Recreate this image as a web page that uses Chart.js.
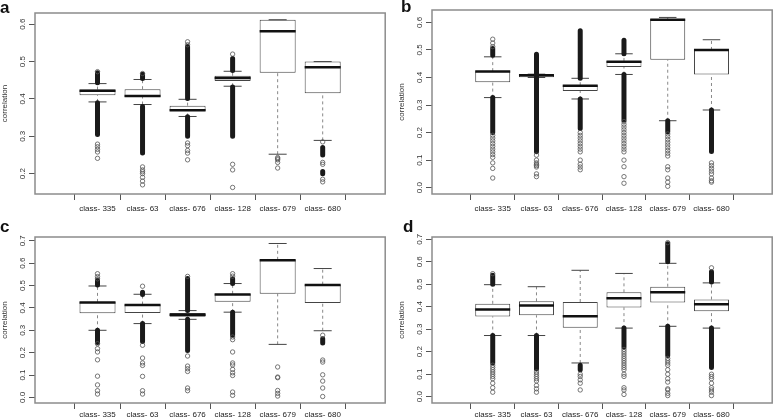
<!DOCTYPE html>
<html>
<head>
<meta charset="utf-8">
<script src="https://cdn.jsdelivr.net/npm/chart.js@4"></script>
<style>
  body { margin: 0; background: #fff; }
  #wrap { position: relative; width: 777px; height: 420px; overflow: hidden; }
  canvas { position: absolute; }
  .tag { position: absolute; font: bold 17px "Liberation Sans", Arial, sans-serif; line-height: 17px; color: #111; }
</style>
</head>
<body>
<div id="wrap">
  <canvas id="pa" width="390" height="220" style="left:0;top:0"></canvas>
  <canvas id="pb" width="387" height="220" style="left:390px;top:0"></canvas>
  <canvas id="pc" width="390" height="200" style="left:0;top:220px"></canvas>
  <canvas id="pd" width="387" height="200" style="left:390px;top:220px"></canvas>
  <div class="tag" style="left:0;top:-1px">a</div>
  <div class="tag" style="left:401px;top:-2px">b</div>
  <div class="tag" style="left:0;top:218px">c</div>
  <div class="tag" style="left:403px;top:218px">d</div>
</div>
<script>
// categories shared by all four panels
const classes = ['class- 335', 'class- 63', 'class- 676', 'class- 128', 'class- 679', 'class- 680'];

// panel a
const aLow  = [0.392, 0.385, 0.353, 0.434, 0.252, 0.289];
const aQ1   = [0.410, 0.405, 0.368, 0.448, 0.470, 0.415];
const aMed  = [0.422, 0.408, 0.370, 0.456, 0.581, 0.485];
const aQ3   = [0.425, 0.426, 0.382, 0.462, 0.612, 0.500];
const aHigh = [0.441, 0.452, 0.399, 0.474, 0.612, 0.500];
const aDense = [[[0.443, 0.470], [0.305, 0.390]], [[0.455, 0.466], [0.255, 0.380]], [[0.401, 0.540], [0.300, 0.352]],
                [[0.476, 0.508], [0.300, 0.432]], [], [[0.250, 0.270], [0.200, 0.206]]];
const aOut = [[0.473, 0.279, 0.272, 0.265, 0.258, 0.241],
              [0.468, 0.218, 0.210, 0.205, 0.200, 0.190, 0.180, 0.170],
              [0.553, 0.545, 0.282, 0.275, 0.262, 0.255, 0.237],
              [0.520, 0.225, 0.210, 0.163],
              [0.243, 0.240, 0.237, 0.230, 0.215],
              [0.285, 0.230, 0.225, 0.185, 0.178]];
const aTicks = [0.2, 0.3, 0.4, 0.5, 0.6];

// panel b
const bLow  = [0.327, 0.400, 0.322, 0.411, 0.243, 0.282];
const bQ1   = [0.383, 0.401, 0.351, 0.438, 0.464, 0.411];
const bMed  = [0.422, 0.408, 0.370, 0.457, 0.610, 0.500];
const bQ3   = [0.423, 0.410, 0.372, 0.460, 0.612, 0.500];
const bHigh = [0.475, 0.412, 0.397, 0.486, 0.618, 0.537];
const bDense = [[[0.481, 0.505], [0.200, 0.327]], [[0.130, 0.484]], [[0.397, 0.570], [0.215, 0.322]],
                [[0.486, 0.535], [0.246, 0.411]], [[0.203, 0.243]], [[0.131, 0.282]]];
const bOut = [[0.539, 0.525, 0.512, 0.19, 0.18, 0.17, 0.16, 0.15, 0.14, 0.13, 0.12, 0.11, 0.09, 0.07, 0.035],
              [0.118, 0.10, 0.09, 0.085, 0.08, 0.075, 0.05, 0.04],
              [0.2, 0.19, 0.18, 0.17, 0.16, 0.15, 0.14, 0.13, 0.1, 0.085, 0.075, 0.065],
              [0.24, 0.23, 0.22, 0.21, 0.2, 0.19, 0.18, 0.17, 0.16, 0.15, 0.14, 0.13, 0.1, 0.076, 0.04, 0.016],
              [0.195, 0.185, 0.175, 0.165, 0.155, 0.145, 0.135, 0.125, 0.115, 0.076, 0.065, 0.035, 0.02, 0.005],
              [0.09, 0.08, 0.07, 0.06, 0.05, 0.035, 0.025, 0.02]];
const bTicks = [0.0, 0.1, 0.2, 0.3, 0.4, 0.5, 0.6];

// panel c
const cLow  = [0.300, 0.330, 0.349, 0.381, 0.237, 0.298];
const cQ1   = [0.376, 0.377, 0.361, 0.428, 0.463, 0.422];
const cMed  = [0.424, 0.413, 0.369, 0.460, 0.613, 0.502];
const cQ3   = [0.427, 0.415, 0.377, 0.463, 0.615, 0.504];
const cHigh = [0.498, 0.461, 0.388, 0.509, 0.688, 0.576];
const cDense = [[[0.502, 0.525], [0.245, 0.300]], [[0.460, 0.470], [0.250, 0.330]], [[0.388, 0.531], [0.210, 0.349]],
                [[0.509, 0.530], [0.278, 0.381]], [], [[0.243, 0.262]]];
const cOut = [[0.553, 0.540, 0.530, 0.240, 0.218, 0.203, 0.168, 0.095, 0.056, 0.030, 0.015],
              [0.497, 0.233, 0.176, 0.154, 0.143, 0.094, 0.030, 0.015],
              [0.541, 0.185, 0.140, 0.128, 0.116, 0.042, 0.030],
              [0.553, 0.542, 0.270, 0.258, 0.203, 0.154, 0.145, 0.125, 0.110, 0.098, 0.024, 0.009],
              [0.136, 0.091, 0.088, 0.031, 0.018, 0.006],
              [0.278, 0.167, 0.158, 0.101, 0.073, 0.042, 0.004]];
const cTicks = [0.0, 0.1, 0.2, 0.3, 0.4, 0.5, 0.6, 0.7];

// panel d
const dLow  = [0.272, 0.272, 0.150, 0.305, 0.313, 0.305];
const dQ1   = [0.357, 0.362, 0.307, 0.397, 0.419, 0.380];
const dMed  = [0.388, 0.406, 0.358, 0.438, 0.464, 0.411];
const dQ3   = [0.413, 0.424, 0.421, 0.464, 0.489, 0.432];
const dHigh = [0.498, 0.489, 0.562, 0.548, 0.593, 0.506];
const dDense = [[[0.500, 0.540], [0.150, 0.272]], [[0.123, 0.272]], [[0.120, 0.140]],
                [[0.220, 0.305]], [[0.600, 0.680], [0.183, 0.313]], [[0.510, 0.556], [0.130, 0.305]]];
const dOut = [[0.547, 0.14, 0.13, 0.12, 0.11, 0.10, 0.09, 0.08, 0.06, 0.04, 0.02],
              [0.11, 0.10, 0.09, 0.08, 0.07, 0.05, 0.035, 0.02],
              [0.10, 0.09, 0.075, 0.06, 0.03],
              [0.21, 0.20, 0.19, 0.18, 0.17, 0.16, 0.15, 0.14, 0.13, 0.12, 0.10, 0.09, 0.04, 0.03, 0.01],
              [0.685, 0.17, 0.16, 0.15, 0.14, 0.12, 0.10, 0.08, 0.065, 0.035, 0.03, 0.015, 0.005],
              [0.573, 0.10, 0.09, 0.08, 0.06, 0.04, 0.03, 0.02, 0.005]];
const dTicks = [0.0, 0.1, 0.2, 0.3, 0.4, 0.5, 0.6, 0.7];

const FONT = '"Liberation Sans", Arial, sans-serif';

// rotated y tick labels, axis title and the grey frame, R style
const rStyle = {
    id: 'rStyle',
    afterDraw(chart) {
        const { ctx, chartArea: ca, scales: { y } } = chart;
        ctx.save();
        ctx.fillStyle = '#333';
        ctx.textAlign = 'center';
        ctx.textBaseline = 'middle';
        ctx.font = '8px ' + FONT;
        y.ticks.forEach(t => {
            ctx.save();
            ctx.translate(ca.left - 12.5, y.getPixelForValue(t.value));
            ctx.rotate(-Math.PI / 2);
            ctx.fillText(t.value.toFixed(1), 0, 0);
            ctx.restore();
        });
        ctx.translate(ca.left - 30, (ca.top + ca.bottom) / 2);
        ctx.rotate(-Math.PI / 2);
        ctx.fillText('correlation', 0, 0);
        ctx.restore();
        ctx.save();
        ctx.strokeStyle = '#8c8c8c';
        ctx.lineWidth = 1.5;
        ctx.strokeRect(ca.left, ca.top, ca.right - ca.left, ca.bottom - ca.top);
        ctx.restore();
    }
};

function halfWidth(units) {
    return c => {
        const s = c.chart.scales.x;
        return s.getPixelForValue(1 + units) - s.getPixelForValue(1);
    };
}

function makePanel(id, lo, q1, med, q3, hi, dense, out, ticks, yMin, yMax, lay) {
    const whisk = [], runs = [], pts = [];
    lo.forEach((v, i) => {
        const x = i + 1;
        whisk.push({ x, y: v }, { x, y: q1[i] }, { x, y: null }, { x, y: q3[i] }, { x, y: hi[i] }, { x, y: null });
        dense[i].forEach(r => runs.push({ x, y: r[0] }, { x, y: r[1] }, { x, y: null }));
        out[i].forEach(v2 => pts.push({ x, y: v2 }));
    });
    const caps = lo.map((v, i) => ({ x: i + 1, y: v })).concat(hi.map((v, i) => ({ x: i + 1, y: v })));

    new Chart(document.getElementById(id), {
        type: 'bar',
        data: {
            datasets: [
                {
                    type: 'line', data: whisk, order: 5,
                    borderColor: '#888', borderWidth: 1, borderDash: [3, 3], pointRadius: 0, spanGaps: false
                },
                {
                    type: 'bar', data: classes.map((c, i) => ({ x: i + 1, y: [q1[i], q3[i]] })), order: 4,
                    backgroundColor: '#fff', borderColor: '#444', borderWidth: 1, borderSkipped: false,
                    barPercentage: 0.8, categoryPercentage: 1
                },
                {
                    type: 'scatter', data: caps, order: 3,
                    pointStyle: 'line', radius: halfWidth(0.2), borderColor: '#444', borderWidth: 1
                },
                {
                    type: 'scatter', data: med.map((v, i) => ({ x: i + 1, y: v })), order: 2,
                    pointStyle: 'line', radius: halfWidth(0.4), borderColor: '#111', borderWidth: 2.5
                },
                {
                    type: 'line', data: runs, order: 1,
                    borderColor: '#1a1a1a', borderWidth: 5, borderCapStyle: 'round', pointRadius: 0, spanGaps: false
                },
                {
                    type: 'scatter', data: pts, order: 0,
                    pointStyle: 'circle', radius: 2.2, borderColor: '#555', borderWidth: 0.8,
                    backgroundColor: 'rgba(0,0,0,0)'
                }
            ]
        },
        options: {
            responsive: false,
            animation: false,
            devicePixelRatio: 1,
            layout: { padding: { top: lay.top, right: 2, left: 0, bottom: 0 } },
            plugins: { legend: { display: false }, tooltip: { enabled: false } },
            scales: {
                x: {
                    type: 'linear', min: 0.26, max: 6.74,
                    afterBuildTicks: s => { s.ticks = classes.map((c, i) => ({ value: i + 1 })); },
                    afterFit: s => { s.height = lay.xh; },
                    grid: { drawOnChartArea: false, tickLength: 6, color: '#555' },
                    border: { display: false },
                    ticks: {
                        callback: v => classes[v - 1], autoSkip: false, maxRotation: 0, padding: lay.pad,
                        color: '#222', font: { family: FONT, size: 8 }
                    }
                },
                y: {
                    type: 'linear', min: yMin, max: yMax,
                    afterBuildTicks: s => { s.ticks = ticks.map(v => ({ value: v })); },
                    afterFit: s => { s.width = lay.yw; },
                    grid: { drawOnChartArea: false, tickLength: 6, color: '#555' },
                    border: { display: false },
                    ticks: { display: false }
                }
            }
        },
        plugins: [rStyle]
    });
}

makePanel('pa', aLow, aQ1, aMed, aQ3, aHigh, aDense, aOut, aTicks, 0.1455, 0.630, { top: 13, yw: 35, xh: 26, pad: 4 });
makePanel('pb', bLow, bQ1, bMed, bQ3, bHigh, bDense, bOut, bTicks, -0.023, 0.645, { top: 10, yw: 42, xh: 26, pad: 4 });
makePanel('pc', cLow, cQ1, cMed, cQ3, cHigh, cDense, cOut, cTicks, -0.025, 0.717, { top: 17, yw: 35, xh: 17, pad: 1 });
makePanel('pd', dLow, dQ1, dMed, dQ3, dHigh, dDense, dOut, dTicks, -0.028, 0.710, { top: 17, yw: 42, xh: 17, pad: 1 });
</script>
</body>
</html>
